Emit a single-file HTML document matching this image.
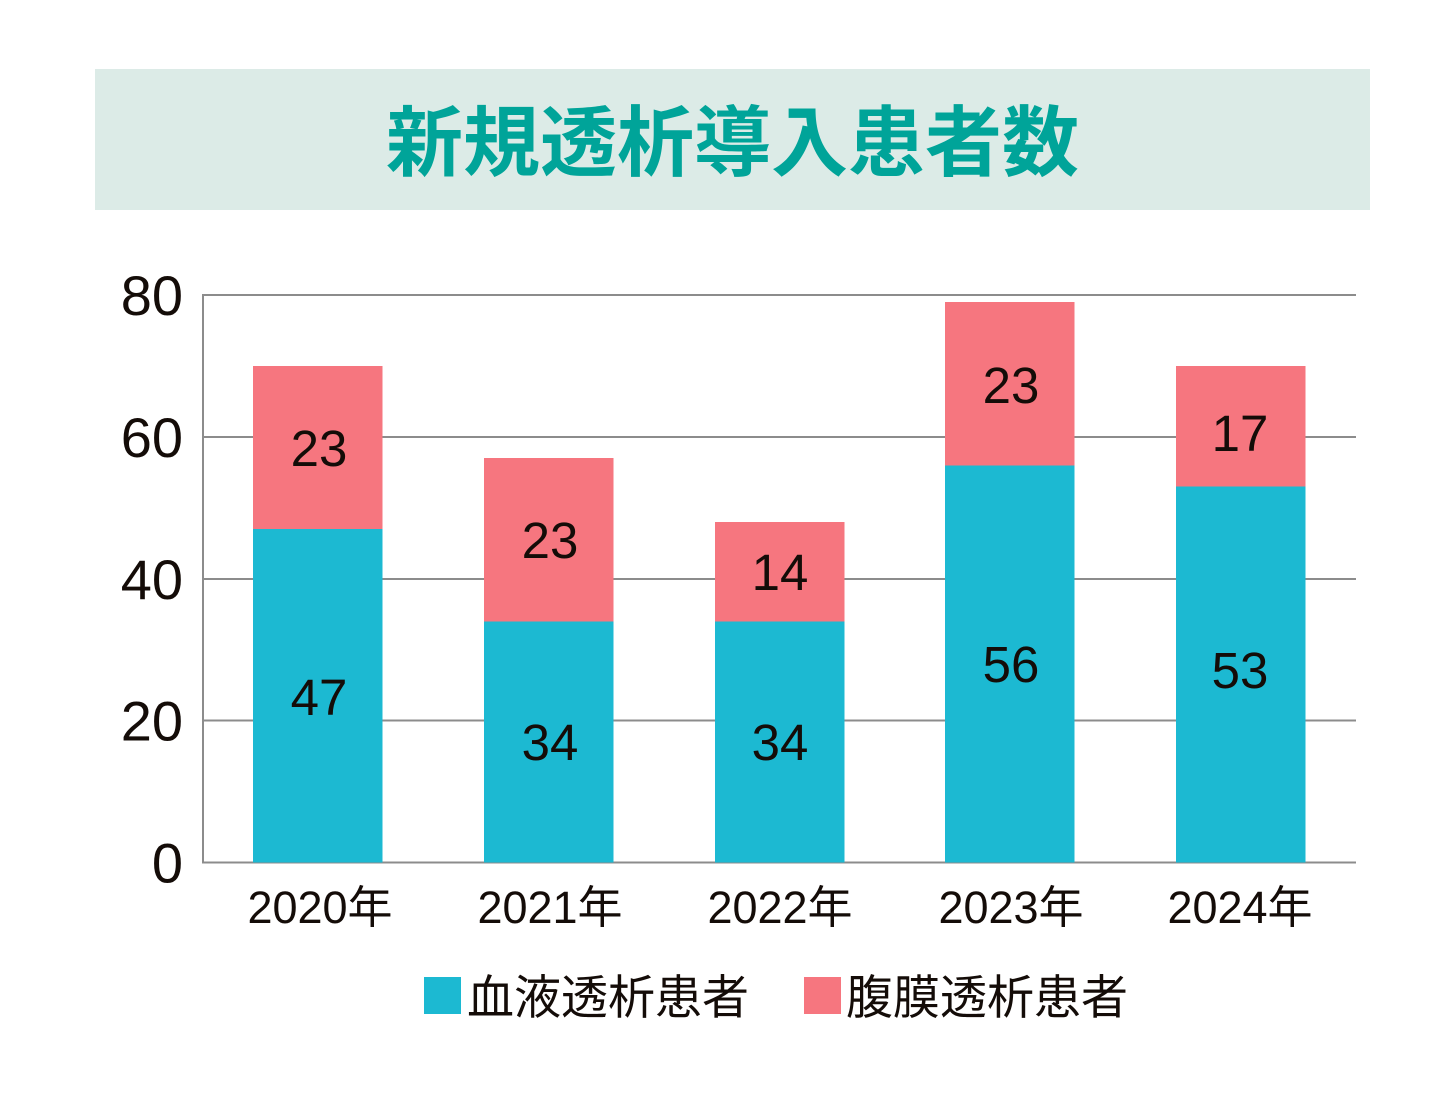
<!DOCTYPE html>
<html>
<head>
<meta charset="utf-8">
<style>
  html, body { margin:0; padding:0; background:#ffffff; }
  svg { display:block; }
  .lat { font-family:"Liberation Sans","Noto Sans CJK JP",sans-serif; }
  .cjk { font-family:"Liberation Sans","Noto Sans CJK JP",sans-serif; }
</style>
</head>
<body>
<svg width="1444" height="1114" viewBox="0 0 1444 1114" xmlns="http://www.w3.org/2000/svg">
  <rect x="0" y="0" width="1444" height="1114" fill="#ffffff"/>
  <!-- Title banner -->
  <rect x="95" y="69" width="1275" height="141" fill="#dcebe7"/>
  <text x="732.5" y="170" text-anchor="middle" class="cjk" font-size="77" font-weight="700" fill="#00a499">新規透析導入患者数</text>

  <!-- Gridlines -->
  <g stroke="#8c8c8c" stroke-width="2" fill="none">
    <line x1="203" y1="295" x2="1356" y2="295"/>
    <line x1="203" y1="437" x2="1356" y2="437"/>
    <line x1="203" y1="579" x2="1356" y2="579"/>
    <line x1="203" y1="720.5" x2="1356" y2="720.5"/>
    <line x1="203" y1="862.5" x2="1356" y2="862.5"/>
    <line x1="203" y1="294" x2="203" y2="863.5"/>
  </g>

  <!-- Y tick labels -->
  <g class="lat" font-size="56" fill="#140c08" text-anchor="end">
    <text x="183" y="315">80</text>
    <text x="183" y="457">60</text>
    <text x="183" y="599">40</text>
    <text x="183" y="740.5">20</text>
    <text x="183" y="882.5">0</text>
  </g>

  <!-- Bars -->
  <g>
    <rect x="253" y="529" width="129.5" height="333.5" fill="#1cb9d2"/>
    <rect x="253" y="366" width="129.5" height="163" fill="#f6767f"/>
    <rect x="484" y="621.5" width="129.5" height="241" fill="#1cb9d2"/>
    <rect x="484" y="458" width="129.5" height="163.5" fill="#f6767f"/>
    <rect x="715" y="621.5" width="129.5" height="241" fill="#1cb9d2"/>
    <rect x="715" y="522" width="129.5" height="99.5" fill="#f6767f"/>
    <rect x="945" y="465.5" width="129.5" height="397" fill="#1cb9d2"/>
    <rect x="945" y="302" width="129.5" height="163.5" fill="#f6767f"/>
    <rect x="1176" y="486.5" width="129.5" height="376" fill="#1cb9d2"/>
    <rect x="1176" y="366" width="129.5" height="120.5" fill="#f6767f"/>
  </g>

  <!-- Bar value labels -->
  <g class="lat" font-size="51" fill="#140c08" text-anchor="middle">
    <text x="319" y="466">23</text>
    <text x="319" y="715">47</text>
    <text x="550" y="558">23</text>
    <text x="550" y="760">34</text>
    <text x="780" y="590">14</text>
    <text x="780" y="760">34</text>
    <text x="1011" y="403">23</text>
    <text x="1011" y="682">56</text>
    <text x="1240" y="451">17</text>
    <text x="1240" y="688">53</text>
  </g>

  <!-- X labels -->
  <g class="cjk" font-size="45" fill="#140c08" text-anchor="middle">
    <text x="320" y="923">2020年</text>
    <text x="550" y="923">2021年</text>
    <text x="780" y="923">2022年</text>
    <text x="1011" y="923">2023年</text>
    <text x="1240" y="923">2024年</text>
  </g>

  <!-- Legend -->
  <rect x="424" y="977" width="37" height="37" fill="#1cb9d2"/>
  <text x="467" y="1014" class="cjk" font-size="47" fill="#140c08">血液透析患者</text>
  <rect x="804" y="977" width="37" height="37" fill="#f6767f"/>
  <text x="846" y="1014" class="cjk" font-size="47" fill="#140c08">腹膜透析患者</text>
</svg>
</body>
</html>
